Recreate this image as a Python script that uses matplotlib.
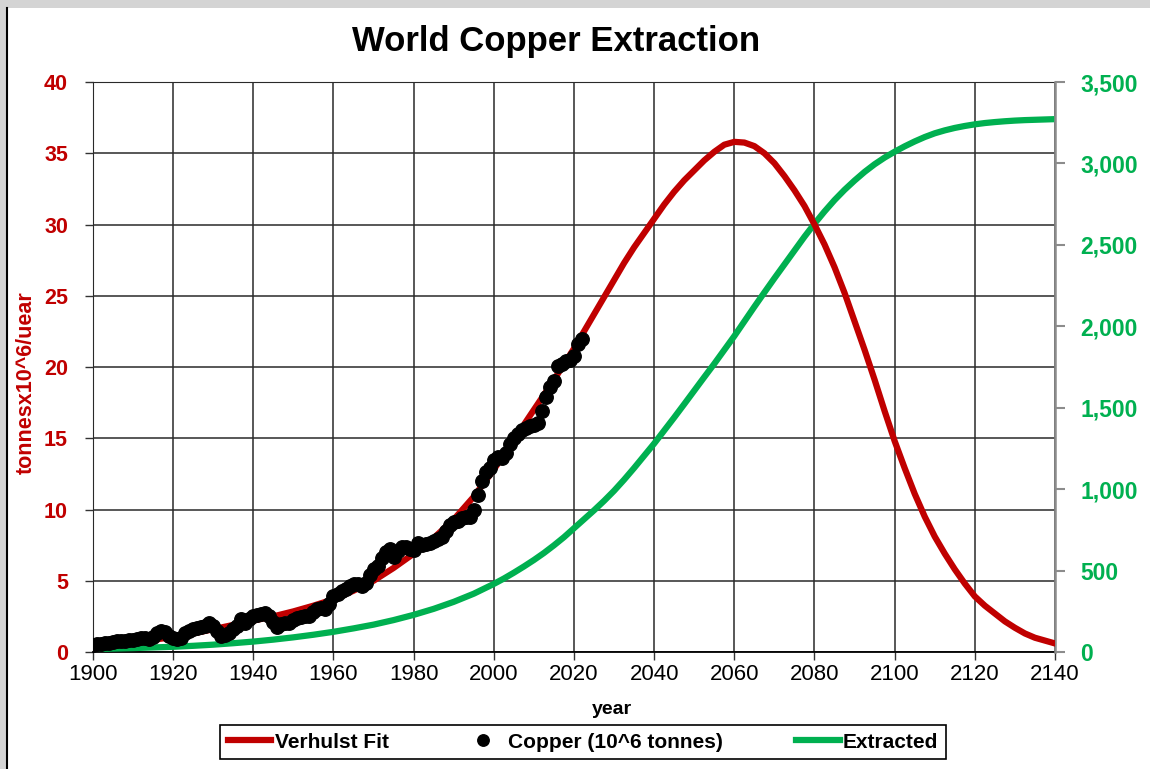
import matplotlib
matplotlib.use("Agg")
import matplotlib.pyplot as plt
from matplotlib.patches import Rectangle
from matplotlib.lines import Line2D
from matplotlib.ticker import StrMethodFormatter

plt.rcParams['font.family'] = ['Liberation Sans', 'DejaVu Sans']

# ---------------- data ----------------
# model curves: every 5 years up to 2000, every 2.5 years afterwards
fit_years = list(range(1900, 2000, 5)) + [2000 + 2.5 * i for i in range(57)]
verhulst_fit = [0.47, 0.58, 0.7, 0.86, 1.05, 1.3, 1.6, 1.9, 2.2, 2.5,
                2.85, 3.25, 3.7, 4.3, 5.0, 5.9, 6.9, 8.0, 9.3, 10.9,
                # 2000 ->
                12.8, 13.85, 14.9, 15.95, 17.0, 18.05, 19.1, 20.2, 21.3, 22.5,
                23.7, 24.9, 26.1, 27.3, 28.4, 29.4, 30.4, 31.4, 32.3, 33.1,
                33.8, 34.5, 35.1, 35.6, 35.8, 35.75, 35.5, 35.0, 34.3, 33.4,
                32.4, 31.3, 30.0, 28.6, 27.0, 25.2, 23.2, 21.2, 19.1, 16.9,
                14.8, 12.9, 11.1, 9.5, 8.1, 6.9, 5.8, 4.8, 3.9, 3.25,
                2.7, 2.15, 1.7, 1.3, 1.0, 0.8, 0.6]
extracted = [18, 21, 24, 28, 32, 38, 45, 54, 64, 76,
             90, 106, 124, 145, 168, 196, 228, 265, 308, 358,
             # 2000 ->
             418, 451, 487, 525, 565, 608, 655, 705, 760, 815,
             870, 928, 990, 1058, 1130, 1205, 1280, 1360, 1440, 1522,
             1605, 1688, 1770, 1855, 1940, 2030, 2120, 2208, 2295, 2380,
             2465, 2550, 2630, 2705, 2775, 2838, 2895, 2948, 2995, 3036,
             3072, 3105, 3135, 3162, 3185, 3203, 3218, 3230, 3240, 3248,
             3254, 3259, 3263, 3266, 3268, 3270, 3272]

copper_years = list(range(1900, 2023))
copper = [0.52, 0.55, 0.58, 0.62, 0.66, 0.7, 0.74, 0.75, 0.76, 0.84,
          0.87, 0.9, 1.0, 1.0, 0.93, 1.08, 1.36, 1.48, 1.42, 1.1,
          0.95, 0.9, 0.95, 1.3, 1.45, 1.6, 1.68, 1.72, 1.85, 2.05,
          1.8, 1.45, 1.12, 1.17, 1.36, 1.58, 1.85, 2.3, 2.05, 2.3,
          2.5, 2.6, 2.7, 2.75, 2.5, 2.1, 1.75, 2.0, 2.05, 2.07,
          2.28, 2.38, 2.45, 2.5, 2.55, 2.8, 3.05, 3.1, 3.05, 3.35,
          3.9, 4.1, 4.3, 4.45, 4.64, 4.75, 4.8, 4.6, 4.85, 5.4,
          5.8, 6.05, 6.6, 7.05, 7.2, 6.7, 7.1, 7.4, 7.35, 7.25,
          7.15, 7.65, 7.5, 7.55, 7.65, 7.8, 7.95, 8.1, 8.5, 8.9,
          9.1, 9.2, 9.4, 9.5, 9.5, 10.0, 11.0, 12.0, 12.6, 12.9,
          13.5, 13.7, 13.6, 14.0, 14.6, 15.0, 15.3, 15.6, 15.7, 15.85,
          15.95, 16.1, 16.9, 17.9, 18.6, 19.0, 20.1, 20.2, 20.4, 20.5,
          20.8, 21.6, 22.0]

x_ticks = list(range(1900, 2141, 20))
left_ticks = list(range(0, 41, 5))
right_ticks = list(range(0, 3501, 500))

RED = '#C00000'
GREEN = '#00B050'

W, H = 1150, 769
fig = plt.figure(figsize=(W / 100, H / 100), dpi=100)
fig.patch.set_facecolor('#d4d4d4')
fig.patches.append(Rectangle((7 / W, 0), 1 - 7 / W, 1 - 8 / H, transform=fig.transFigure,
                             facecolor='white', edgecolor='none', zorder=-2))
fig.lines.append(Line2D([7 / W, 7 / W], [0, 1 - 8 / H], transform=fig.transFigure,
                        color='black', lw=1.5, zorder=-1))

ax = fig.add_axes([93 / W, 1 - 652 / H, (1055 - 93) / W, (652 - 82) / H])
ax.set_facecolor('white')
ax2 = ax.twinx()

ax.set_xlim(1900, 2140)
ax.set_ylim(0, 40)
ax.set_xticks(x_ticks)
ax.set_yticks(left_ticks)
ax.grid(True, color='#2a2a2a', lw=1.1)
ax.set_axisbelow(True)

# curves (green on right axis, red & dots on left axis but drawn above green)
l_ext, = ax2.plot(fit_years, extracted, color=GREEN, lw=4.5, zorder=2,
                  solid_joinstyle='round', label='Extracted')
l_fit, = ax2.plot(fit_years, verhulst_fit, color=RED, lw=4.5, zorder=3,
                  solid_joinstyle='round', transform=ax.transData, label='Verhulst Fit')
l_cu, = ax2.plot(copper_years, copper, 'o', color='black', ms=9.7, zorder=4,
                 transform=ax.transData, label='Copper (10^6 tonnes)')
ax2.set_ylim(0, 3500)
ax2.set_yticks(right_ticks)
ax2.yaxis.set_major_formatter(StrMethodFormatter('{x:,.0f}'))
ax.set_xlim(1900, 2140)
ax.set_ylim(0, 40)

for s in ['top', 'left', 'bottom']:
    ax2.spines[s].set_visible(False)
ax.spines['right'].set_visible(False)
ax.spines['top'].set_color('#2a2a2a')
ax.spines['left'].set_color('#2a2a2a')
ax.spines['bottom'].set_color('black')
ax.spines['bottom'].set_linewidth(1.3)
ax2.spines['right'].set_color('#8c8c8c')
ax2.spines['right'].set_linewidth(1.8)

ax.tick_params(axis='x', direction='out', length=6, width=1, color='#333333',
               labelsize=16, labelcolor='black', pad=3)
ax.tick_params(axis='y', direction='out', length=6, width=1, color='#333333',
               labelsize=15.5, labelcolor=RED, pad=12)
ax2.tick_params(axis='y', direction='out', length=7, width=1.5, color='#8c8c8c',
                labelsize=16.5, labelcolor=GREEN, pad=11)
for lbl in ax.get_yticklabels() + ax2.get_yticklabels():
    lbl.set_fontweight('bold')

fig.text(556 / W, 1 - 41 / H, 'World Copper Extraction', ha='center', va='center',
         fontsize=25, fontweight='bold')
fig.text(26 / W, 1 - 383 / H, 'tonnesx10^6/uear', rotation=90, ha='center', va='center',
         fontsize=15.5, fontweight='bold', color=RED)
fig.text(612 / W, 1 - 710 / H, 'year', ha='center', va='center', fontsize=14, fontweight='bold')

leg = fig.legend([l_fit, l_cu, l_ext], ['Verhulst Fit', 'Copper (10^6 tonnes)', 'Extracted'],
                 loc='center', bbox_to_anchor=(583 / W, 1 - 742 / H), ncol=3,
                 frameon=True, fancybox=False, framealpha=1, edgecolor='black',
                 prop={'weight': 'bold', 'size': 15}, handlelength=2.1,
                 handletextpad=0.15, columnspacing=3.5, borderpad=0.35,
                 markerscale=0.85)
leg.get_frame().set_linewidth(1.2)

fig.savefig('out.png', dpi=100, facecolor=fig.get_facecolor())
